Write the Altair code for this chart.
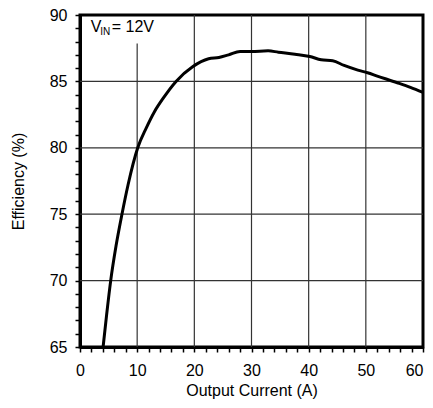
import altair as alt
import pandas as pd

# Efficiency curve
current = [4.04, 4.65, 5.37, 6.3, 7.34, 8.4, 10.1, 11.6, 13.0, 14.5, 16.8,
           19.7, 22.5, 24.3, 26.0, 28.0, 30.0, 32.9, 34.7, 37.6, 40.2, 42.2, 44.2,
           46.2, 48.6, 50.3, 52.0, 55.5, 57.8, 60.0]
efficiency = [65.0, 67.4, 70.0, 72.6, 75.0, 77.2, 80.0, 81.5, 82.7, 83.7, 85.0,
              86.1, 86.7, 86.8, 87.0, 87.25, 87.25, 87.3, 87.2, 87.05, 86.88, 86.63, 86.56,
              86.2, 85.85, 85.65, 85.4, 84.9, 84.55, 84.17]

x_ticks = list(range(0, 61, 2))
y_ticks = list(range(65, 91, 1))
grid_x = [10, 20, 30, 40, 50]
grid_x_top = [87.86, 90, 90, 90, 90]
grid_y = [70, 75, 80, 85]

label_parts = ["V", "IN", "= 12V"]
label_x = [1.86, 3.55, 5.55]
label_y = [88.72, 88.53, 88.72]
label_size = [16, 10, 16]

FONT = "Liberation Sans"
W, H = 343, 332

xs = alt.Scale(domain=[0, 60], nice=False, zero=False)
ys = alt.Scale(domain=[65, 90], nice=False, zero=False)

x_axis = alt.Axis(values=x_ticks, grid=False, ticks=True, labelOverlap=False,
                  labelExpr="datum.value % 10 == 0 ? datum.label : ''",
                  labelAlign={"condition": {"test": "datum.value == 60", "value": "right"},
                              "value": "center"},
                  labelPadding=10, titlePadding=4, labelFlush=False)
y_axis = alt.Axis(values=y_ticks, grid=False, ticks=True, labelOverlap=False,
                  labelExpr="datum.value % 5 == 0 ? datum.label : ''",
                  labelPadding=8, titlePadding=23)

X = alt.X("x:Q", scale=xs, axis=x_axis, title="Output Current (A)")
Y = alt.Y("y:Q", scale=ys, axis=y_axis, title="Efficiency (%)")

curve_df = pd.DataFrame({"x": current, "y": efficiency})
vgrid_df = pd.DataFrame({"x": grid_x, "y": [65] * len(grid_x), "y2": grid_x_top})
hgrid_df = pd.DataFrame({"y": grid_y})
label_df = pd.DataFrame({"t": label_parts, "x": label_x, "y": label_y, "s": label_size})

hgrid = alt.Chart(hgrid_df).mark_rule(color="#333333", strokeWidth=1.2).encode(y=Y)

vgrid = alt.Chart(vgrid_df).mark_rule(color="#333333", strokeWidth=1.2).encode(
    x=X, y=Y, y2="y2:Q"
)

line = alt.Chart(curve_df).mark_line(color="black", strokeWidth=3,
                                     interpolate="monotone").encode(x=X, y=Y)

labels = alt.Chart(label_df).mark_text(align="left", baseline="alphabetic", font=FONT,
                                       color="black").encode(
    x=X, y=Y, text="t:N", size=alt.Size("s:Q", scale=None, legend=None)
)

chart = alt.layer(hgrid, vgrid, line, labels).properties(
    width=W, height=H,
    autosize=alt.AutoSizeParams(type="none"),
    padding={"left": 72, "top": 7, "right": 2, "bottom": 53},
).configure_axis(
    domainColor="black", domainWidth=3, tickColor="black", tickWidth=1.5, tickSize=5,
    labelFont=FONT, labelFontSize=16, labelColor="black",
    titleFont=FONT, titleFontSize=16, titleFontWeight="normal", titleColor="black",
).configure_view(stroke="black", strokeWidth=3)

chart.save("out.html", embed_options={"renderer": "svg", "actions": False})
